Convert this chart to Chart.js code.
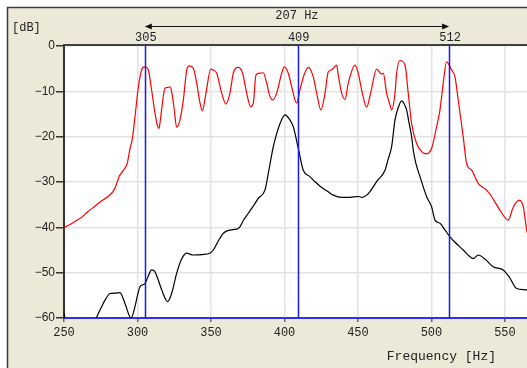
<!DOCTYPE html>
<html>
<head>
<meta charset="utf-8">
<script src="https://cdn.jsdelivr.net/npm/chart.js@4.4.1/dist/chart.umd.min.js"></script>
<style>
  html, body { margin:0; padding:0; background:#fff; }
  canvas { display:block; }
</style>
</head>
<body>
<canvas id="c" width="527" height="368"></canvas>
<script>
'use strict';

// x range / ticks
const X_MIN = 250, X_MAX = 565, X_STEP = 50;
const Y_MIN = -60, Y_MAX = 0, Y_STEP = 10;

// cursor markers (Hz)
const MARKERS = [305, 409, 512];

// red spectrum
const RED_F  = [250,251,255,259,262,266,270,275,280,284,286,287.5,290,293,295,296.5,298.3,300.6,302.8,304.5,305.8,307.4,309.6,311.9,313.5,314.6,315.5,316.4,318.7,320,322.1,323.2,325,326.6,328.9,331.2,333.5,335.3,338,340.3,342.5,344.1,346.6,349.8,351.5,353.9,357.3,360.2,362.9,365.2,368.6,371.5,374.3,377,378.8,380.6,383.3,385.6,387.9,390,392,394.7,398.1,399.9,402.6,404.9,408.3,410.5,413.3,416.2,419.6,421.9,424.8,427.6,429.8,432,435.5,436.6,438.9,441.2,443.4,448,450.2,452.5,455.9,458.6,462.7,466.1,467.2,469.5,471.8,472.9,475.2,476.3,478.6,482,484.2,486.5,489.9,493.3,496.3,500.1,503.5,505.8,508,510.3,513.7,516,518.2,521.6,523.9,527.3,531.8,537.5,540.9,546.6,552.2,555.7,559.8,562.5,564.8,566];
const RED_DB = [-40,-39.9,-39.2,-38.4,-37.8,-36.6,-35.6,-34.3,-33.2,-31.8,-30.2,-28.8,-27.6,-25.9,-22.5,-20.5,-15.6,-9,-5.3,-4.6,-4.7,-5.3,-9.7,-14.8,-17.5,-18.2,-16.5,-14.1,-9.3,-9.2,-9,-10,-14,-17.9,-16.3,-11.9,-5.3,-4.4,-4.9,-8.2,-12.5,-14.3,-10.4,-5.1,-5.3,-6,-10.4,-12.8,-10.4,-6,-4.7,-6,-10.4,-13.4,-12.6,-6.4,-6,-5.9,-8.2,-11,-11.9,-10.4,-6,-4.6,-6,-9,-12.6,-9.7,-6.4,-4.7,-6.8,-10.4,-14.1,-10.4,-5.7,-5.3,-4.2,-6.4,-10.4,-11.8,-8.2,-4.2,-6,-9.7,-13.5,-10.4,-5.1,-6.2,-6,-10.4,-13,-14.1,-10.4,-6,-3.2,-4.2,-10.4,-17.1,-21.5,-23.3,-23.8,-22.6,-17.8,-14.1,-8.2,-3.5,-5.3,-6.8,-11.9,-20,-25.9,-27.4,-30.3,-31.8,-33.2,-36.2,-38.4,-35.5,-34,-35.5,-40.6,-42];

// black spectrum
const BLACK_F  = [250,252,260,270,272,275.6,278,281.3,285,288.1,291.5,295.6,298.3,300,301.7,305.1,307,309.7,311.9,314,316.5,320.5,323.2,326.6,330,333.5,337.9,344,349.3,351.6,355,358.4,363,367.5,369.7,372,375.4,379,382.2,386.7,389,392.4,395,397,400.3,403.7,406,409.4,412.8,417.3,421,425.3,429,433.2,438.9,444.6,450.2,453,455.9,458.2,462.7,468.4,470.5,472.9,475.2,477.5,479.7,481.5,483.1,484.5,486.5,487.6,489.5,492.2,496.7,500.1,502.4,505.8,509,512.6,516,521.6,526.2,528.4,531.8,536.4,542,548.8,553,557.9,564.8,566];
const BLACK_DB = [-59,-62,-64,-62,-60,-57.5,-56,-54.6,-54.5,-54.4,-56.8,-60,-57.5,-55,-53.1,-52.4,-51,-49.4,-49.8,-51.5,-53.8,-56.4,-54.6,-50.2,-47,-45.7,-46.1,-46,-45.7,-45,-43,-41.3,-40.6,-40.4,-39.9,-38.5,-36.9,-35.2,-33.6,-31.8,-28.1,-22.2,-19,-17.1,-15.2,-16.3,-17.8,-22.6,-27.4,-28.8,-30,-31.2,-32,-32.9,-33.4,-33.4,-33.2,-33.4,-32.9,-32.1,-29.9,-27.4,-25,-22.2,-16.3,-13.5,-12.1,-12.8,-14.1,-16.5,-20,-22.9,-26,-28.8,-33.2,-35.5,-38.4,-39.1,-40.5,-42.1,-43.3,-45,-46.5,-46.9,-46.1,-47,-48.7,-49.4,-51,-53.5,-53.8,-54];

const BEIGE = '#ece9d8';
const MONO = '"Liberation Mono", "DejaVu Sans Mono", monospace';

const pts = (xs, ys) => xs.map((x, i) => ({ x, y: ys[i] }));

const framePlugin = {
  id: 'frame',
  beforeDraw(chart) {
    const { ctx, chartArea: a, width, height } = chart;
    ctx.save();
    ctx.fillStyle = '#fff';
    ctx.fillRect(0, 0, width, height);
    ctx.fillStyle = BEIGE;
    ctx.fillRect(7, 7, width - 7, height - 7);
    ctx.strokeStyle = '#3c3c3c';
    ctx.lineWidth = 1.5;
    ctx.beginPath();
    ctx.moveTo(7.5, height); ctx.lineTo(7.5, 7.5); ctx.lineTo(width, 7.5);
    ctx.stroke();
    ctx.fillStyle = '#fff';
    ctx.fillRect(a.left, a.top, a.right - a.left, a.bottom - a.top);
    ctx.restore();
  },
  afterDatasetsDraw(chart) {
    const { ctx, chartArea: a, scales } = chart;
    const xs = scales.x;
    ctx.save();
    // cursor lines
    ctx.strokeStyle = '#1a1aee';
    ctx.lineWidth = 1.5;
    MARKERS.forEach(m => {
      const px = Math.round(xs.getPixelForValue(m)) + 0.5;
      ctx.beginPath(); ctx.moveTo(px, a.top); ctx.lineTo(px, a.bottom); ctx.stroke();
    });
    // top border
    ctx.strokeStyle = '#404040';
    ctx.lineWidth = 2;
    ctx.beginPath(); ctx.moveTo(a.left - 1, a.top - 1); ctx.lineTo(a.right, a.top - 1); ctx.stroke();

    // marker labels
    ctx.fillStyle = '#222';
    ctx.font = '12px ' + MONO;
    ctx.textAlign = 'center';
    ctx.textBaseline = 'middle';
    MARKERS.forEach(m => ctx.fillText(String(m), xs.getPixelForValue(m) + 1, 38));

    // span arrow
    const x1 = xs.getPixelForValue(MARKERS[0]);
    const x2 = xs.getPixelForValue(MARKERS[MARKERS.length - 1]);
    const ay = 26.5;
    ctx.strokeStyle = '#111';
    ctx.lineWidth = 1;
    ctx.beginPath(); ctx.moveTo(x1 + 2, ay); ctx.lineTo(x2 - 2, ay); ctx.stroke();
    ctx.fillStyle = '#111';
    ctx.beginPath(); ctx.moveTo(x1, ay); ctx.lineTo(x1 + 7, ay - 3); ctx.lineTo(x1 + 7, ay + 3); ctx.closePath(); ctx.fill();
    ctx.beginPath(); ctx.moveTo(x2, ay); ctx.lineTo(x2 - 7, ay - 3); ctx.lineTo(x2 - 7, ay + 3); ctx.closePath(); ctx.fill();
    ctx.fillStyle = '#222';
    ctx.fillText((MARKERS[MARKERS.length - 1] - MARKERS[0]) + ' Hz', (x1 + x2) / 2, 16);

    // axis labels
    ctx.textAlign = 'left';
    ctx.fillText('[dB]', 12, 28);
    ctx.font = '13px ' + MONO;
    ctx.textAlign = 'right';
    ctx.fillText('Frequency [Hz]', 496, 357);
    ctx.restore();
  }
};

new Chart(document.getElementById('c'), {
  type: 'line',
  data: {
    datasets: [
      { label: 'black', data: pts(BLACK_F, BLACK_DB), borderColor: '#000', borderWidth: 1.2, pointRadius: 0, cubicInterpolationMode: 'monotone', fill: false },
      { label: 'red', data: pts(RED_F, RED_DB), borderColor: '#ff0000', borderWidth: 1.2, pointRadius: 0, cubicInterpolationMode: 'monotone', fill: false }
    ]
  },
  options: {
    responsive: false,
    animation: false,
    devicePixelRatio: 1,
    layout: { padding: { top: 46, left: 0, right: 0, bottom: 0 } },
    plugins: { legend: { display: false }, tooltip: { enabled: false } },
    scales: {
      x: {
        type: 'linear', min: X_MIN, max: X_MAX,
        ticks: { stepSize: X_STEP, includeBounds: false, color: '#222', font: { family: MONO, size: 12 }, padding: 4, maxRotation: 0 },
        grid: { color: '#e3e3e3', lineWidth: 1.5, tickLength: 4, tickColor: '#666' },
        border: { color: '#3030ee', width: 2 },
        afterFit: s => { s.height = 50; }
      },
      y: {
        min: Y_MIN, max: Y_MAX,
        ticks: { stepSize: Y_STEP, color: '#222', font: { family: '"Liberation Sans", Arial, sans-serif', size: 12 }, padding: 1,
          callback: v => v < 0 ? '\u2212' + (-v) : String(v) },
        grid: { color: '#e3e3e3', lineWidth: 1.5, tickLength: 8, tickColor: '#333' },
        border: { color: '#333', width: 2 },
        afterFit: s => { s.width = 64; }
      }
    }
  },
  plugins: [framePlugin]
});
</script>
</body>
</html>
